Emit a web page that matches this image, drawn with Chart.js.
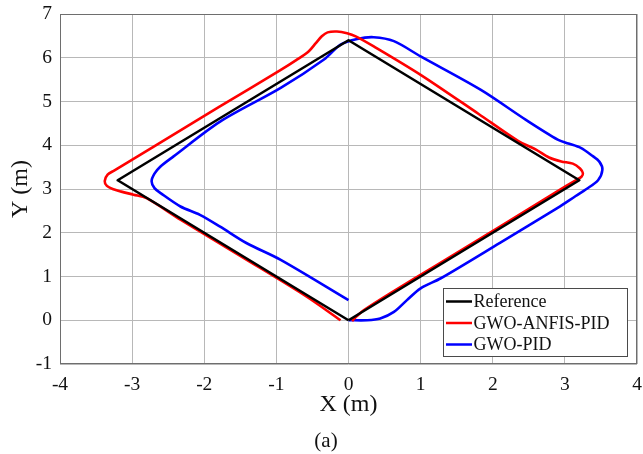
<!DOCTYPE html>
<html>
<head>
<meta charset="utf-8">
<title>Trajectory tracking</title>
<script src="https://cdn.jsdelivr.net/npm/chart.js@4.4.1/dist/chart.umd.min.js"></script>
<style>
  html, body { margin: 0; padding: 0; background: #fff; }
  #wrap { width: 643px; height: 454px; }
</style>
</head>
<body>
<div id="wrap"><canvas id="traj" width="643" height="454"></canvas></div>
<script>
// path samples, metres
const refX = [0, 3.2, 0, -3.2, 0];
const refY = [0, 3.2, 6.4, 3.2, 0];

const anfisX = [0.05, 0.12, 0.22, 0.6, 1.2, 2.1, 2.9, 3.15, 3.23, 3.25, 3.21, 3.11, 2.95, 2.78, 2.6, 2.35, 1.8, 1.0, 0.35, 0.1, -0.02, -0.16, -0.29, -0.37, -0.45, -0.55, -0.72, -0.95, -1.8, -2.7, -3.25, -3.34, -3.38, -3.35, -3.27, -3.15, -2.98, -2.8, -2.33, -1.45, -0.6, -0.11];
const anfisY = [-0.02, 0.1, 0.24, 0.64, 1.24, 2.14, 2.95, 3.2, 3.28, 3.36, 3.47, 3.58, 3.63, 3.72, 3.9, 4.1, 4.72, 5.61, 6.26, 6.49, 6.56, 6.6, 6.58, 6.49, 6.34, 6.15, 5.95, 5.71, 4.87, 3.97, 3.42, 3.33, 3.18, 3.07, 3.0, 2.94, 2.87, 2.79, 2.3, 1.42, 0.56, 0.0];

const pidX = [0, 0.26, 0.44, 0.63, 0.81, 1.0, 1.28, 2.1, 2.9, 3.15, 3.3, 3.46, 3.52, 3.48, 3.38, 3.22, 3.05, 2.9, 2.46, 1.83, 1.0, 0.63, 0.35, 0.12, -0.11, -0.34, -0.94, -1.78, -2.43, -2.61, -2.69, -2.73, -2.69, -2.6, -2.33, -2.06, -1.78, -1.41, -0.94, 0];
const pidY = [0, 0, 0.04, 0.19, 0.46, 0.73, 0.96, 1.77, 2.57, 2.84, 3.0, 3.2, 3.44, 3.62, 3.76, 3.94, 4.04, 4.13, 4.58, 5.27, 6.03, 6.38, 6.47, 6.43, 6.3, 5.96, 5.31, 4.54, 3.74, 3.51, 3.35, 3.18, 3.02, 2.9, 2.6, 2.41, 2.14, 1.76, 1.38, 0.46];

const xTicks = [-4, -3, -2, -1, 0, 1, 2, 3, 4];
const yTicks = [-1, 0, 1, 2, 3, 4, 5, 6, 7];

const seriesNames = ['Reference', 'GWO-ANFIS-PID', 'GWO-PID'];
const seriesColors = ['#000000', '#ff0000', '#0000ff'];

const serif = '"Liberation Serif", "Times New Roman", serif';

const toPoints = (xs, ys) => xs.map((x, i) => ({ x: x, y: ys[i] }));

// box around the axes + legend inside the lower right corner + caption
const framePlugin = {
  id: 'frame',
  beforeDatasetsDraw(chart) {
    const { ctx, chartArea: a } = chart;
    ctx.save();
    ctx.strokeStyle = '#6e6e6e';
    ctx.lineWidth = 1;
    ctx.strokeRect(a.left + 0.5, a.top + 0.5, a.right - a.left - 1, a.bottom - a.top - 1);
    ctx.restore();
  },
  afterDraw(chart) {
    const { ctx, chartArea: a } = chart;
    ctx.save();
    const bx = a.right - 194, by = a.bottom - 76, bw = 184, bh = 68;
    ctx.fillStyle = '#fff';
    ctx.fillRect(bx, by, bw, bh);
    ctx.strokeStyle = '#4a4a4a';
    ctx.lineWidth = 1;
    ctx.strokeRect(bx + 0.5, by + 0.5, bw, bh);
    ctx.font = '18px ' + serif;
    ctx.textBaseline = 'middle';
    seriesNames.forEach((name, i) => {
      const y = by + 13.5 + i * 21.5;
      ctx.strokeStyle = seriesColors[i];
      ctx.lineWidth = 2.5;
      ctx.beginPath();
      ctx.moveTo(bx + 3, y);
      ctx.lineTo(bx + 29, y);
      ctx.stroke();
      ctx.fillStyle = '#111';
      ctx.fillText(name, bx + 30.5, y + 1);
    });
    ctx.font = '21px ' + serif;
    ctx.textAlign = 'center';
    ctx.fillStyle = '#111';
    ctx.fillText('(a)', 326, 441);
    ctx.restore();
  }
};

new Chart(document.getElementById('traj'), {
  type: 'scatter',
  data: {
    datasets: [
      { label: seriesNames[0], data: toPoints(refX, refY), borderColor: seriesColors[0], borderWidth: 2.6, tension: 0 },
      { label: seriesNames[1], data: toPoints(anfisX, anfisY), borderColor: seriesColors[1], borderWidth: 2.6, tension: 0.3 },
      { label: seriesNames[2], data: toPoints(pidX, pidY), borderColor: seriesColors[2], borderWidth: 2.6, tension: 0.3 }
    ].map(d => Object.assign(d, { showLine: true, pointRadius: 0, pointHoverRadius: 0, fill: false, borderJoinStyle: 'round' }))
  },
  options: {
    responsive: false,
    animation: false,
    events: [],
    layout: { padding: { top: 14, right: 6, left: 0, bottom: 0 } },
    plugins: { legend: { display: false }, tooltip: { enabled: false } },
    scales: {
      x: {
        type: 'linear',
        min: -4, max: 4,
        afterFit: s => { s.height = 90; s.paddingLeft = 0; s.paddingRight = 0; },
        afterBuildTicks: s => { s.ticks = xTicks.map(v => ({ value: v })); },
        grid: { color: '#b8b8b8', lineWidth: 1, drawTicks: false },
        border: { display: false },
        ticks: { padding: 9, color: '#111', font: { family: serif, size: 19.5 }, maxRotation: 0 },
        title: { display: true, text: 'X (m)', color: '#111', font: { family: serif, size: 24 }, padding: { top: 0, bottom: 35 } }
      },
      y: {
        type: 'linear',
        min: -1, max: 7,
        afterFit: s => { s.width = 60; s.paddingTop = 0; s.paddingBottom = 0; },
        afterBuildTicks: s => { s.ticks = yTicks.map(v => ({ value: v })); },
        grid: { color: '#b8b8b8', lineWidth: 1, drawTicks: false },
        border: { display: false },
        ticks: { padding: 8, color: '#111', font: { family: serif, size: 19.5 } },
        title: { display: true, text: 'Y (m)', color: '#111', font: { family: serif, size: 24 }, padding: { top: 6, bottom: 0 } }
      }
    }
  },
  plugins: [framePlugin]
});
</script>
</body>
</html>
